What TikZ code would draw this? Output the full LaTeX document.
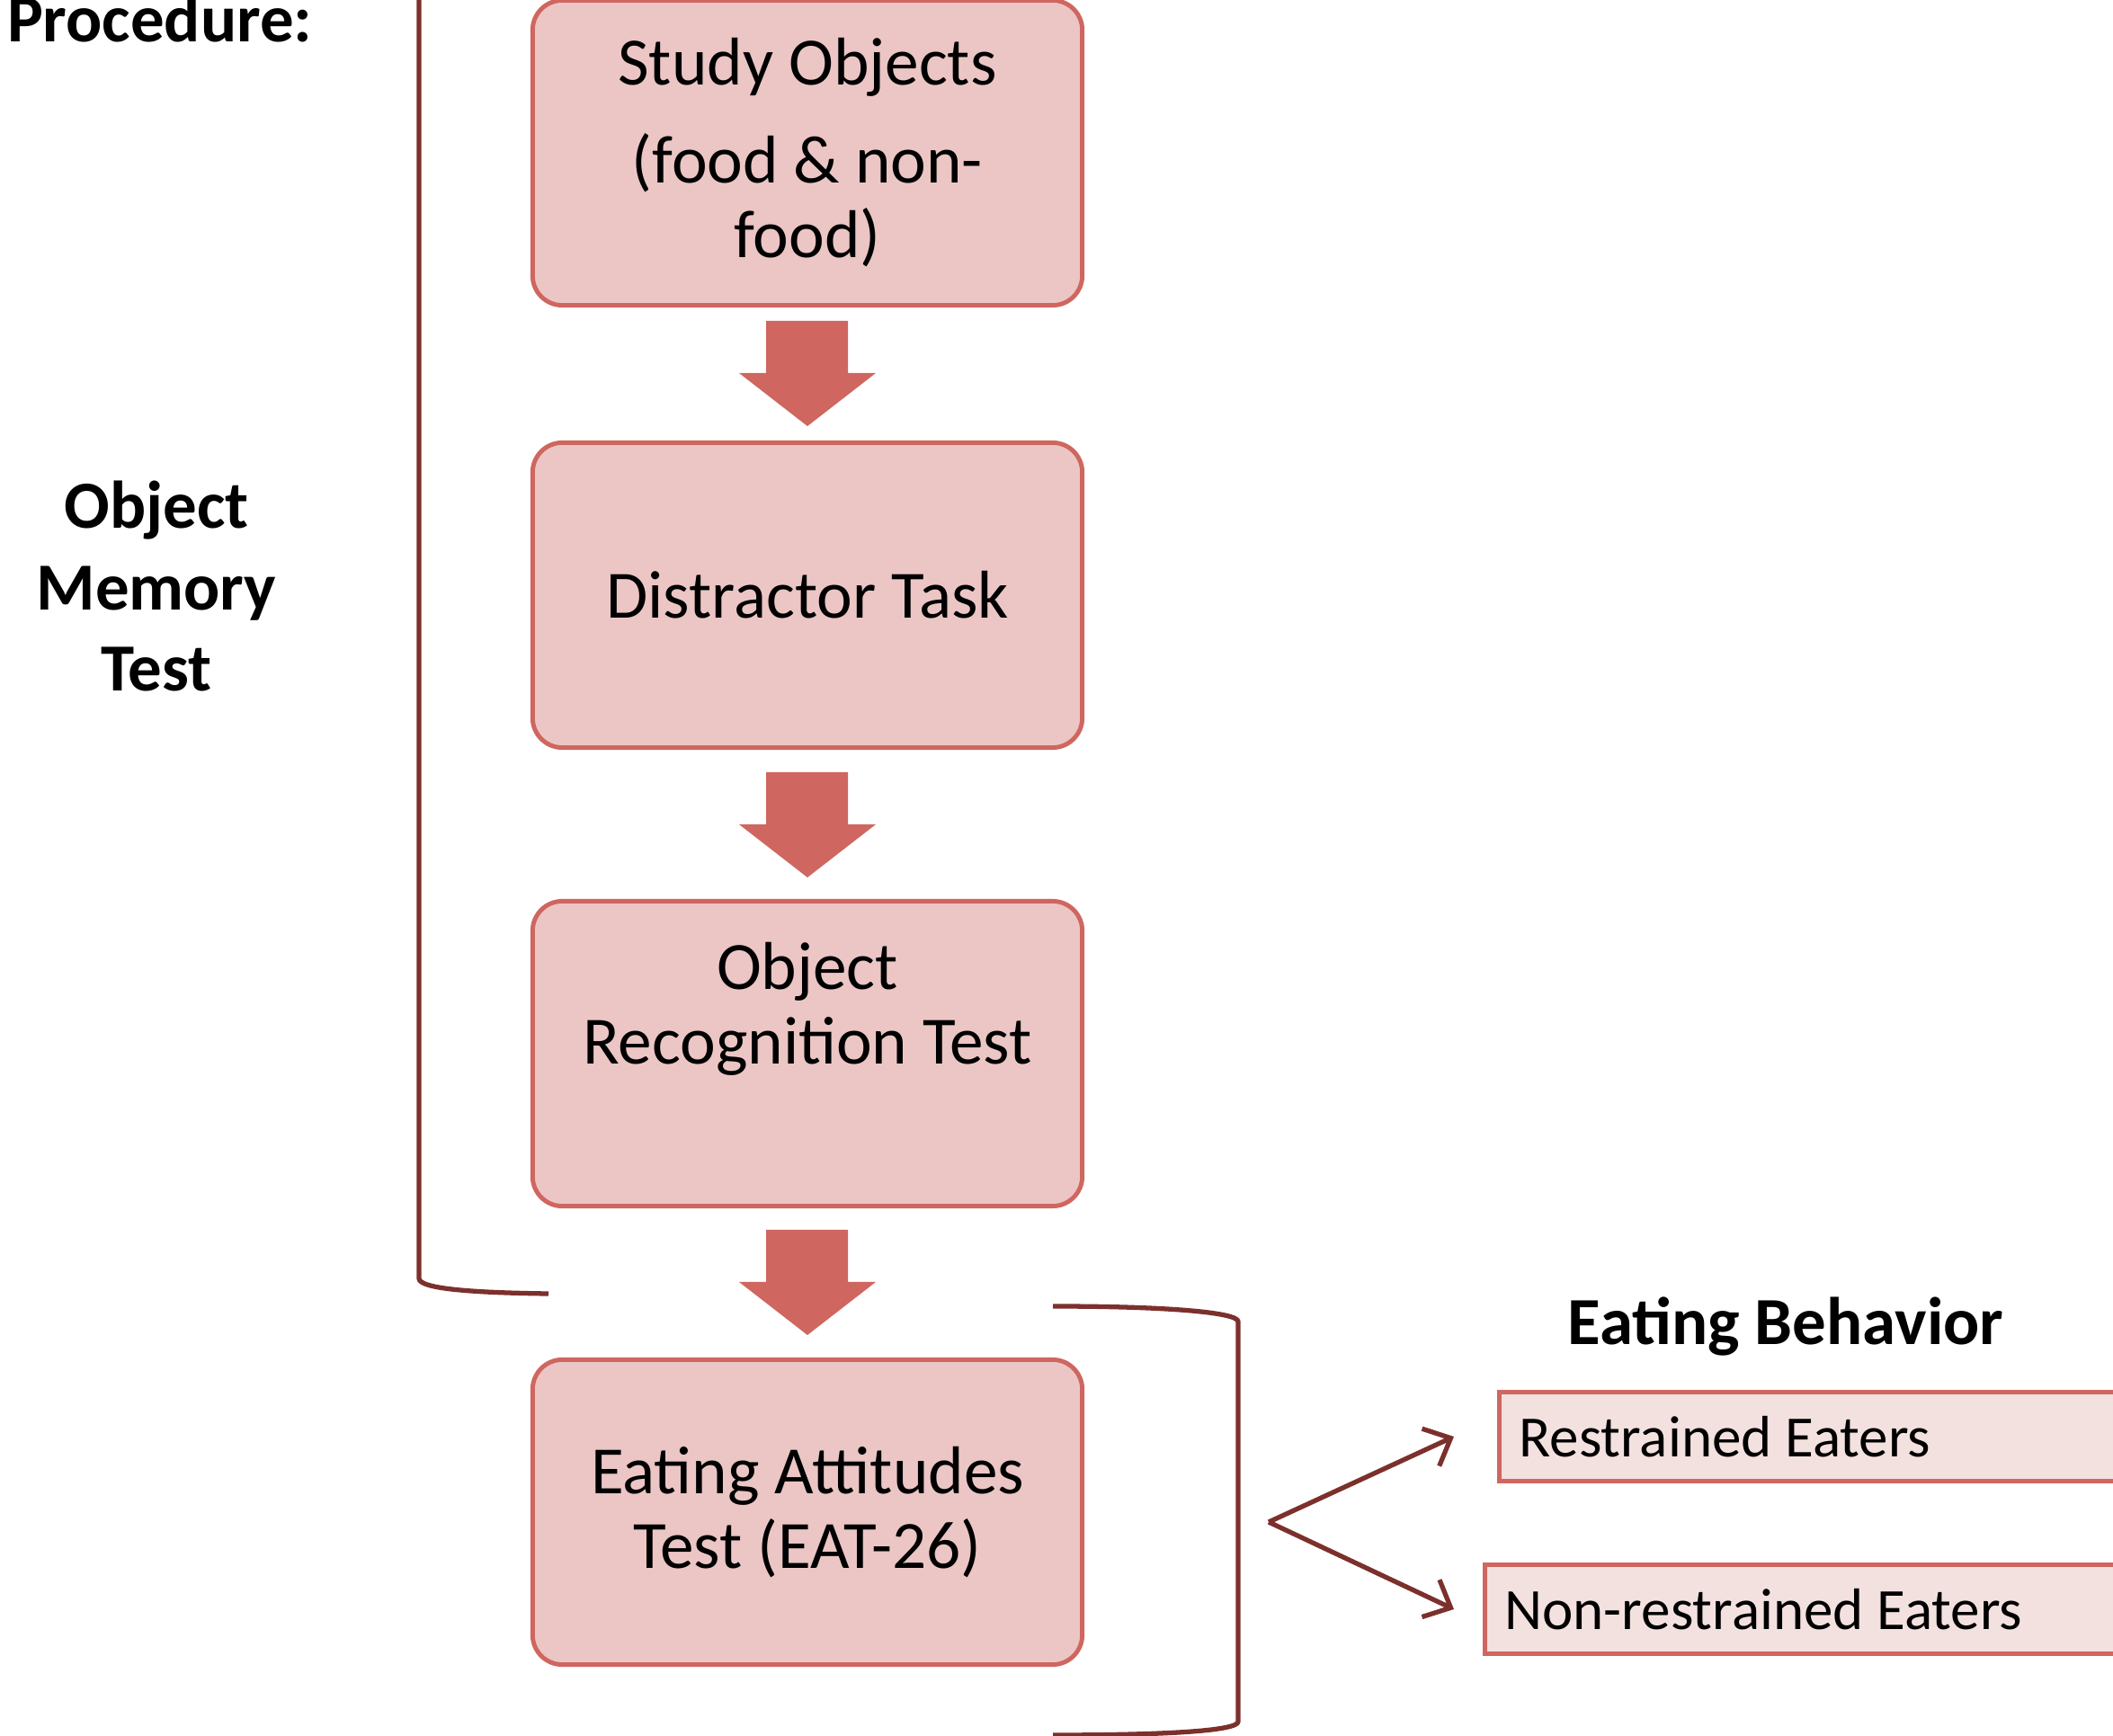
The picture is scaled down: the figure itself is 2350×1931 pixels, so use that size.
\documentclass[tikz,border=0pt]{standalone}
\usepackage{fontspec}
\setmainfont{Carlito}
\usepackage{tikz}
\usetikzlibrary{arrows.meta}

\definecolor{boxfill}{RGB}{235,198,197}
\definecolor{boxline}{RGB}{207,102,96}
\definecolor{groupfill}{RGB}{243,225,224}
\definecolor{brace}{RGB}{124,48,44}

\begin{document}
\begin{tikzpicture}[x=0.01cm,y=-0.01cm,
		stage/.style={draw=boxline,fill=boxfill,line width=1.4pt,rounded corners=0.33cm,
			minimum width=6.11cm,minimum height=3.39cm,align=center,
			font=\fontsize{21.4}{23.6}\selectfont},
		group/.style={draw=boxline,fill=groupfill,line width=1.4pt,anchor=west,
			minimum height=0.99cm,inner xsep=0.22cm,
			font=\fontsize{18.5}{21}\selectfont},
		heading/.style={font=\fontsize{21.3}{25.6}\selectfont\bfseries,align=center},
		bracket/.style={draw=brace,line width=1.5pt},
		branch/.style={draw=brace,line width=1.5pt,-{Straight Barb[length=7pt,width=13pt]}}]
			\useasboundingbox (0,0) rectangle (2350,1931);
			
			% brackets
			
			\draw[bracket] (466,-10) -- (466,1422) .. controls (466,1434) and (530,1438) .. (610,1439);
			\draw[bracket] (1171,1453) .. controls (1300,1453) and (1377,1460) .. (1377,1470)
				-- (1377,1915) .. controls (1377,1925) and (1300,1930) .. (1171,1930);
			
			% stages
			
			\node[stage] (study) at (898,170) {Study Objects\\[0.26cm](food \& non-\\food)};
			\node[stage] (distract) at (898,662) {Distractor Task};
			\node[stage] (recog) at (898,1172) {};
			\node[font=\fontsize{21.4}{23.6}\selectfont,align=center] (recogtext) at (898,1122) {Object\\Recognition Test};
			\node[stage] (eat) at (898,1682) {Eating Attitudes\\Test (EAT-26)};
			
			\foreach \y in {357,859,1368} {
				\fill[boxline] (852,\y) -- (943,\y) -- (943,\y+58) -- (974,\y+58) -- (898,\y+117)
					-- (822,\y+58) -- (852,\y+58) -- cycle;
			}
			
			% labels
			
			\node[heading,anchor=base east] (proc) at (360,47) {Procedure:};
			\node[heading] (omt) at (174,652) {Object\\Memory\\Test};
			\node[heading] (behav) at (1986,1476) {Eating Behavior};
			
			% groups
			
			\node[group] (restr) at (1665,1598) {\makebox[7.2cm][l]{Restrained Eaters}};
			\node[group] (nonrestr) at (1649,1790) {\makebox[7.2cm][l]{Non-restrained Eaters}};
			
			\coordinate (fork) at (1411,1693);
			\coordinate (toR) at (1617,1598);
			\coordinate (toN) at (1617,1790);
			\draw[branch] (fork) -- (toR);
			\draw[branch] (fork) -- (toN);
		\end{tikzpicture}
\end{document}
